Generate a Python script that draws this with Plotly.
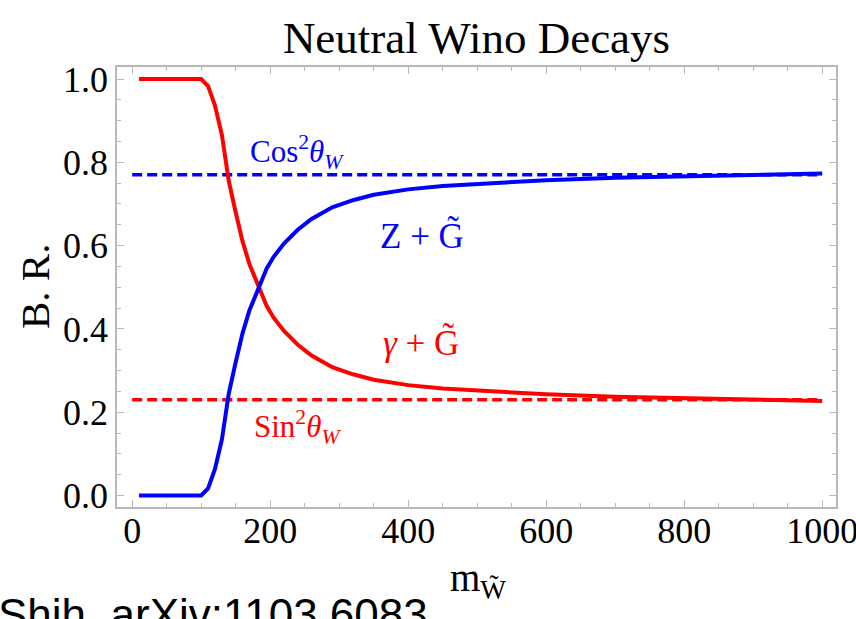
import plotly.graph_objects as go

# Branching ratios of the neutral wino into Z + gravitino and photon + gravitino
mass = [10, 91, 100, 110, 120, 130, 140, 150, 160, 170, 183, 195, 205, 220, 240,
        260, 290, 320, 350, 400, 450, 500, 600, 700, 800, 900, 1000]
br_z = [0.0, 0.0, 0.0, 0.017, 0.064, 0.134, 0.245, 0.32, 0.39, 0.445, 0.50, 0.545,
        0.573, 0.605, 0.638, 0.664, 0.692, 0.709, 0.722, 0.735, 0.743, 0.748,
        0.757, 0.763, 0.767, 0.770, 0.773]
br_gamma = [1.0, 1.0, 1.0, 0.983, 0.936, 0.866, 0.755, 0.68, 0.61, 0.555, 0.50,
            0.455, 0.427, 0.395, 0.362, 0.336, 0.308, 0.291, 0.278, 0.265, 0.257,
            0.252, 0.243, 0.237, 0.233, 0.230, 0.227]

# Asymptotic values
cos2_w = 0.77
sin2_w = 0.23
limit_x = [0, 1000]

x_ticks = [0, 200, 400, 600, 800, 1000]
y_ticks = [0.0, 0.2, 0.4, 0.6, 0.8, 1.0]
y_tick_text = ["0.0", "0.2", "0.4", "0.6", "0.8", "1.0"]

RED = "#ff0000"
BLUE = "#0000ff"
FRAME = "#b8b8b8"
SERIF = "Liberation Serif, Times New Roman, serif"

fig = go.Figure()
fig.add_trace(go.Scatter(x=limit_x, y=[cos2_w, cos2_w], mode="lines",
                         line=dict(color=BLUE, width=3.5, dash="10px,5px"),
                         showlegend=False, hoverinfo="skip"))
fig.add_trace(go.Scatter(x=limit_x, y=[sin2_w, sin2_w], mode="lines",
                         line=dict(color=RED, width=3.5, dash="10px,5px"),
                         showlegend=False, hoverinfo="skip"))
fig.add_trace(go.Scatter(x=mass, y=br_gamma, mode="lines",
                         line=dict(color=RED, width=4), showlegend=False))
fig.add_trace(go.Scatter(x=mass, y=br_z, mode="lines",
                         line=dict(color=BLUE, width=4), showlegend=False))

axis_common = dict(showline=True, linecolor=FRAME, linewidth=1.5, mirror="ticks",
                   ticks="inside", tickcolor=FRAME, tickwidth=1.2, ticklen=7,
                   showgrid=False, zeroline=False, ticklabeloverflow="allow",
                   automargin=False,
                   tickfont=dict(family=SERIF, size=36, color="black"))

fig.update_xaxes(range=[-22, 1020], tickvals=x_ticks, ticklabelstandoff=-9,
                 minor=dict(ticks="inside", dtick=50, tick0=0, ticklen=4,
                            tickcolor=FRAME, tickwidth=1.2, showgrid=False),
                 **axis_common)
fig.update_yaxes(range=[-0.0276, 1.0288], tickvals=y_ticks, ticktext=y_tick_text,
                 minor=dict(ticks="inside", dtick=0.05, tick0=0, ticklen=4,
                            tickcolor=FRAME, tickwidth=1.2, showgrid=False),
                 **axis_common)

L, R, T, B = 117, 20, 67, 112
W, H = 856, 619
pw, ph = W - L - R, H - T - B


def px(xp):
    return (xp - L) / pw


def py(yp):
    return (T + ph - yp) / ph


annotations = [
    dict(x=px(297), y=py(152), text="Cos<sup>2</sup><i>θ</i><sub><i>W</i></sub>",
         font=dict(family=SERIF, size=31, color=BLUE)),
    dict(x=px(422), y=py(236), text="Z + G\u0303",
         font=dict(family=SERIF, size=35, color=BLUE)),
    dict(x=px(421), y=py(343), text="<i>γ</i> + G\u0303",
         font=dict(family=SERIF, size=35, color=RED)),
    dict(x=px(297), y=py(427), text="Sin<sup>2</sup><i>θ</i><sub><i>W</i></sub>",
         font=dict(family=SERIF, size=31, color=RED)),
    dict(x=px(35), y=py(287), text="B. R.", textangle=-90,
         font=dict(family=SERIF, size=41, color="black")),
    dict(x=px(478), y=py(580), text="m<sub>W\u0303</sub>",
         font=dict(family=SERIF, size=39, color="black")),
    dict(x=px(-4), y=py(588), text="Shih, arXiv:1103.6083", xanchor="left",
         yanchor="top", font=dict(family="Liberation Sans, Arial, sans-serif",
                                  size=44, color="black")),
]
for a in annotations:
    a.setdefault("xanchor", "center")
    a.setdefault("yanchor", "middle")
    fig.add_annotation(xref="paper", yref="paper", showarrow=False, **a)

fig.update_layout(
    width=W, height=H,
    margin=dict(l=L, r=R, t=T, b=B, autoexpand=False),
    paper_bgcolor="white", plot_bgcolor="white",
    title=dict(text="Neutral Wino Decays", x=476.5 / W,
               xanchor="center", y=1 - 37 / H, yanchor="middle",
               font=dict(family=SERIF, size=45, color="black")),
)

fig.write_html("out.html")
